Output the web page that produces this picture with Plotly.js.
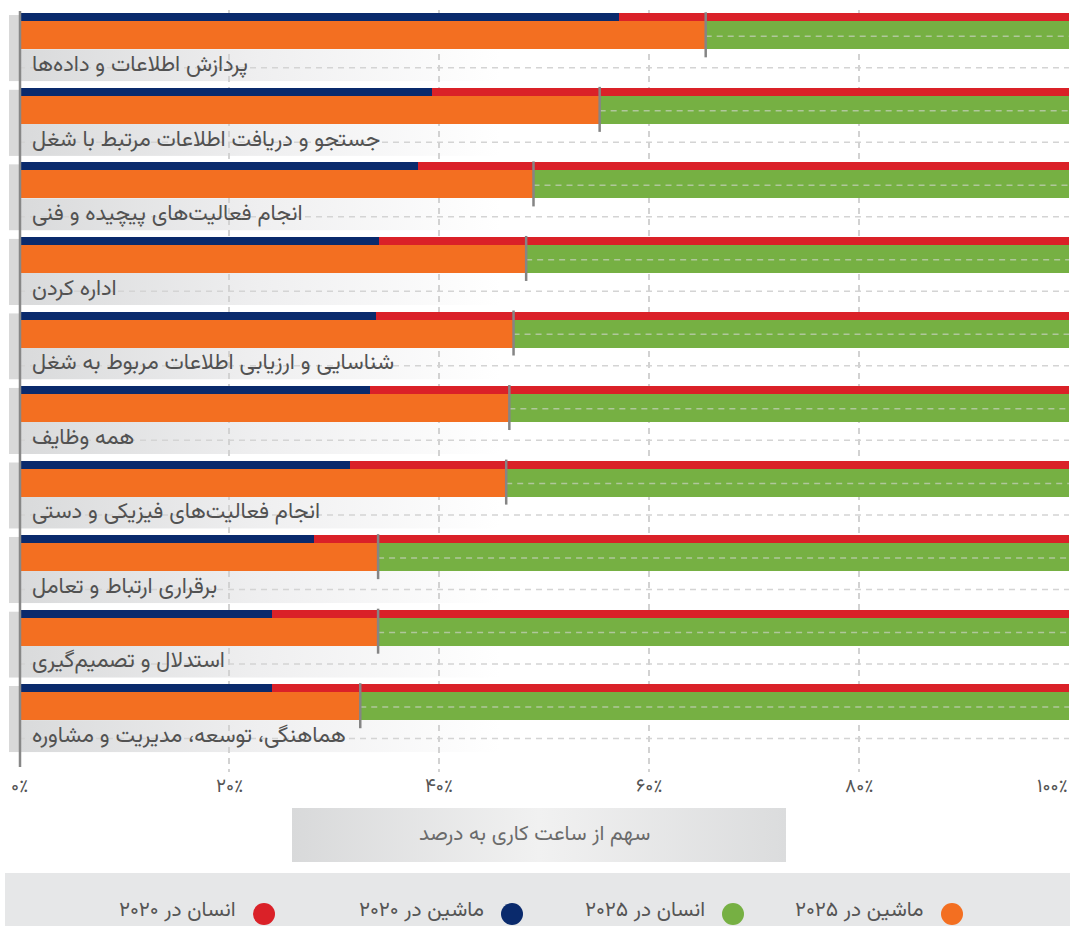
<!DOCTYPE html>
<html>
<head>
<meta charset="utf-8">
<script src="https://cdn.plot.ly/plotly-3.0.1.min.js"></script>
<style>
html,body{margin:0;padding:0;background:#fff;}
#chart{width:1070px;height:926px;}
</style>
</head>
<body>
<div id="chart"></div>
<script>
// ---- data ----
const categories = [
  "پردازش اطلاعات و داده‌ها",
  "جستجو و دریافت اطلاعات مرتبط با شغل",
  "انجام فعالیت‌های پیچیده و فنی",
  "اداره کردن",
  "شناسایی و ارزیابی اطلاعات مربوط به شغل",
  "همه وظایف",
  "انجام فعالیت‌های فیزیکی و دستی",
  "برقراری ارتباط و تعامل",
  "استدلال و تصمیم‌گیری",
  "هماهنگی، توسعه، مدیریت و مشاوره"
];
const machine2020 = [57.1, 39.3, 38.0, 34.3, 34.0, 33.4, 31.5, 28.1, 24.1, 24.1];
const human2020   = [42.9, 60.7, 62.0, 65.7, 66.0, 66.6, 68.5, 71.9, 75.9, 75.9];
const machine2025 = [65.4, 55.3, 49.0, 48.3, 47.1, 46.7, 46.4, 34.2, 34.2, 32.5];
const human2025   = [34.6, 44.7, 51.0, 51.7, 52.9, 53.3, 53.6, 65.8, 65.8, 67.5];
const tickVals = [0, 20, 40, 60, 80, 100];
const tickText = ["۰٪", "۲۰٪", "۴۰٪", "۶۰٪", "۸۰٪", "۱۰۰٪"];
const axisTitle = "سهم از ساعت کاری به درصد";
const legendLabels = ["ماشین در ۲۰۲۵", "انسان در ۲۰۲۵", "ماشین در ۲۰۲۰", "انسان در ۲۰۲۰"];

// ---- styles ----
const C_NAVY = "#0a2a6c", C_RED = "#da2128", C_ORANGE = "#f36f21", C_GREEN = "#76b043";
const legendColors = [C_ORANGE, C_GREEN, C_NAVY, C_RED];
const FONT = "Vazirmatn, 'Noto Sans Arabic', 'DejaVu Sans', sans-serif";

// geometry (pixels)
const W = 1070, H = 926;
const M = {l: 19, r: 1, t: 10, b: 154};
const plotW = W - M.l - M.r, plotH = H - M.t - M.b;
const PITCH = 74.54;             // pixels per category
const Y_TOP = -0.545, Y_BOT = 9.677; // y range (category units)
const u = px => px / PITCH;      // pixel -> category units
const py = v => (Y_BOT - v) / (Y_BOT - Y_TOP);        // category units -> paper y
const pxX = px => (px - M.l) / plotW;                // absolute px -> paper x
const pxY = px => (M.t + plotH - px) / plotH;        // absolute px -> paper y

const OFF20 = u(-37.27), WID20 = u(8);
const OFF25 = u(-29.27), WID25 = u(28);

const common = {type: "bar", orientation: "h", y: categories, hoverinfo: "skip"};
const traces = [
  Object.assign({}, common, {x: machine2020, base: 0, offset: OFF20, width: WID20,
    marker: {color: C_NAVY, line: {width: 0}}, name: legendLabels[2]}),
  Object.assign({}, common, {x: human2020, base: machine2020, offset: OFF20, width: WID20,
    marker: {color: C_RED, line: {width: 0}}, name: legendLabels[3]}),
  Object.assign({}, common, {x: machine2025, base: 0, offset: OFF25, width: WID25,
    marker: {color: C_ORANGE, line: {width: 0}}, name: legendLabels[0]}),
  Object.assign({}, common, {x: human2025, base: machine2025, offset: OFF25, width: WID25,
    marker: {color: C_GREEN, line: {width: 0}}, name: legendLabels[1]})
];

const shapes = [];
const images = [];
const annotations = [];

const svgURI = s => "data:image/svg+xml;charset=utf-8," + encodeURIComponent(s);

// label background per row
const rowBgSvg = svgURI(
  '<svg xmlns="http://www.w3.org/2000/svg" width="491" height="66" viewBox="0 0 491 66" preserveAspectRatio="none">' +
  '<defs><linearGradient id="g" x1="0" x2="1" y1="0" y2="0">' +
  '<stop offset="0" stop-color="#d9dadb"/><stop offset="0.5" stop-color="#efeff0"/><stop offset="1" stop-color="#ffffff"/>' +
  '</linearGradient></defs>' +
  '<rect x="0" y="0" width="10" height="66" fill="#d9d9d9"/>' +
  '<rect x="10" y="34" width="481" height="32" fill="url(#g)"/></svg>');

categories.forEach((c, i) => {
  const top = i + u(1.7 - 37.27);
  images.push({source: rowBgSvg, xref: "paper", yref: "paper",
    x: pxX(9), y: py(top), sizex: 491 / plotW, sizey: u(66.3) / (Y_BOT - Y_TOP),
    xanchor: "left", yanchor: "top", sizing: "stretch", layer: "below"});
  // dashed line through label band
  shapes.push({type: "line", xref: "x", yref: "y", x0: 0, x1: 100,
    y0: i + u(17.0), y1: i + u(17.0), layer: "below",
    line: {color: "#d4d4d4", width: 1.5, dash: "6px,5px"}});
  // dashed line over green bar
  shapes.push({type: "line", xref: "x", yref: "y", x0: machine2025[i], x1: 100,
    y0: i + u(-14.5), y1: i + u(-14.5), layer: "above",
    line: {color: "rgba(215,215,215,0.6)", width: 1.5, dash: "6px,5px"}});
  // gray marker at 2025 boundary
  shapes.push({type: "line", xref: "x", yref: "y", x0: machine2025[i], x1: machine2025[i],
    y0: i + u(-38.3), y1: i + u(6.7), layer: "above",
    line: {color: "#858585", width: 2.5}});
  // category label
  annotations.push({text: c, xref: "x", yref: "y", x: 0, y: i + u(15),
    xanchor: "left", yanchor: "middle", xshift: 12, showarrow: false, borderpad: 0,
    font: {family: FONT, size: 22, color: "#525252"}});
});

// y axis line at 0%
shapes.push({type: "line", xref: "paper", yref: "paper", x0: pxX(20), x1: pxX(20),
  y0: pxY(767), y1: pxY(11), layer: "above", line: {color: "#878787", width: 2.5}});

// tick labels
tickVals.forEach((v, k) => {
  annotations.push({text: tickText[k], xref: "x", yref: "paper", x: v, y: pxY(787),
    xanchor: k === tickVals.length - 1 ? "right" : "center", yanchor: "middle",
    showarrow: false, borderpad: 0, font: {family: FONT, size: 19, color: "#555555"}});
});

// axis title box
images.push({source: svgURI(
  '<svg xmlns="http://www.w3.org/2000/svg" width="494" height="54" viewBox="0 0 494 54" preserveAspectRatio="none">' +
  '<defs><linearGradient id="t" x1="0" x2="1" y1="0" y2="0">' +
  '<stop offset="0" stop-color="#d8d9da"/><stop offset="0.5" stop-color="#f1f1f1"/><stop offset="1" stop-color="#dbdcdd"/>' +
  '</linearGradient></defs><rect x="0" y="0" width="494" height="54" fill="url(#t)"/></svg>'),
  xref: "paper", yref: "paper", x: pxX(292), y: pxY(808), sizex: 494 / plotW, sizey: 54 / plotH,
  xanchor: "left", yanchor: "top", sizing: "stretch", layer: "below"});
annotations.push({text: axisTitle, xref: "paper", yref: "paper", x: pxX(534), y: pxY(834),
  xanchor: "center", yanchor: "middle", showarrow: false, borderpad: 0,
  font: {family: FONT, size: 21, color: "#6b6b6b"}});

// legend band
shapes.push({type: "rect", xref: "paper", yref: "paper", x0: pxX(5), x1: pxX(1071),
  y0: pxY(926), y1: pxY(873), fillcolor: "#e6e7e8", line: {width: 0}, layer: "below"});
const legendCx = [952, 733, 512, 264];
legendLabels.forEach((lab, k) => {
  shapes.push({type: "circle", xref: "paper", yref: "paper",
    xsizemode: "pixel", ysizemode: "pixel",
    xanchor: pxX(legendCx[k]), yanchor: pxY(914),
    x0: -11, x1: 11, y0: -11, y1: 11,
    fillcolor: legendColors[k], line: {width: 0}, layer: "above"});
  annotations.push({text: lab, xref: "paper", yref: "paper", x: pxX(legendCx[k] - 27), y: pxY(910),
    xanchor: "right", yanchor: "middle", showarrow: false, borderpad: 0,
    font: {family: FONT, size: 21, color: "#555555"}});
});

const layout = {
  width: W, height: H,
  margin: M,
  paper_bgcolor: "#ffffff", plot_bgcolor: "rgba(0,0,0,0)",
  barmode: "overlay", bargap: 0,
  showlegend: false,
  font: {family: FONT},
  xaxis: {range: [0, 100], tickvals: tickVals, showticklabels: false, ticks: "",
    showgrid: true, gridcolor: "#d2d2d2", gridwidth: 1.5, griddash: "6px,5px",
    zeroline: false, showline: false, fixedrange: true},
  yaxis: {type: "category", categoryorder: "array", categoryarray: categories,
    range: [Y_BOT, Y_TOP], autorange: false, showticklabels: false, ticks: "",
    showgrid: false, zeroline: false, showline: false, fixedrange: true},
  shapes: shapes, images: images, annotations: annotations
};

Plotly.newPlot("chart", traces, layout, {displayModeBar: false, staticPlot: true});
</script>
</body>
</html>
